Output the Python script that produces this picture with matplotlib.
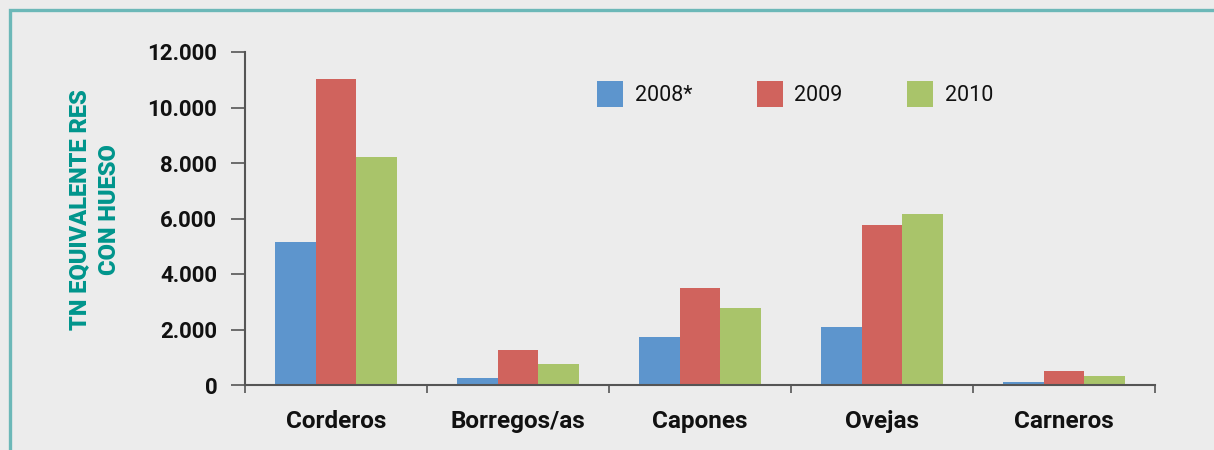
import matplotlib
matplotlib.use("Agg")
import matplotlib.pyplot as plt
from matplotlib.patches import Rectangle
import numpy as np

categories = ["Corderos", "Borregos/as", "Capones", "Ovejas", "Carneros"]
series_names = ["2008*", "2009", "2010"]
v2008 = [5150, 250, 1730, 2090, 100]
v2009 = [11030, 1260, 3500, 5760, 500]
v2010 = [8200, 760, 2780, 6170, 320]
yticks = [0, 2000, 4000, 6000, 8000, 10000, 12000]
ytick_labels = ["0", "2.000", "4.000", "6.000", "8.000", "10.000", "12.000"]
colors = ["#5d95cd", "#d0635d", "#a9c46a"]
teal = "#00958c"
bg = "#ececec"

plt.rcParams['font.family'] = ['Roboto', 'DejaVu Sans']

fig = plt.figure(figsize=(12.14, 4.5), dpi=100)
fig.patch.set_facecolor(bg)

# teal border (left and top)
W, H = 1214, 450
fig.add_artist(Rectangle((10 / W, -0.1), 1.2, 1 - 10 / H + 0.1, transform=fig.transFigure,
                         fill=False, edgecolor="#6cb8b8", linewidth=2.4))

ax = fig.add_axes([245 / W, 1 - 385 / H, (1155 - 245) / W, (385 - 52) / H])
ax.set_facecolor("none")

x = np.arange(len(categories))
w = 0.222
for i, (vals, name) in enumerate(zip([v2008, v2009, v2010], series_names)):
    ax.bar(x + (i - 1) * w, vals, width=w, color=colors[i], label=name, zorder=2)

ax.set_xlim(-0.5, len(categories) - 0.5)
ax.set_ylim(0, 12000)
ax.set_yticks(yticks)
ax.set_yticklabels(ytick_labels, fontsize=16, fontweight="bold", color="#111111")
ax.set_xticks(x)
ax.set_xticklabels(categories, fontsize=17.5, fontweight="bold", color="#111111")
ax.tick_params(axis="x", length=0, pad=18)
ax.set_xticks(np.arange(len(categories) + 1) - 0.5, minor=True)
ax.tick_params(axis="x", which="minor", length=6, width=1.2, color="#555555", direction="out")
ax.tick_params(axis="y", length=10, width=1.2, color="#555555", direction="out", pad=10)

for s in ["top", "right"]:
    ax.spines[s].set_visible(False)
for s in ["left", "bottom"]:
    ax.spines[s].set_color("#555555")
    ax.spines[s].set_linewidth(1.5)

fig.text(80 / W, 1 - 210 / H, "TN EQUIVALENTE RES", rotation=90, ha="center", va="center",
         fontsize=17, fontweight="black", color=teal)
fig.text(110 / W, 1 - 210 / H, "CON HUESO", rotation=90, ha="center", va="center",
         fontsize=17, fontweight="black", color=teal)

leg = ax.legend(loc="upper left", bbox_to_anchor=((597 - 245) / 910, 1 - 29 / 333), ncol=3, frameon=False,
                fontsize=15.5, handlelength=1.2, handleheight=1.45, handletextpad=0.55,
                columnspacing=3.0, borderaxespad=0, borderpad=0)
for t in leg.get_texts():
    t.set_color("#111111")

fig.savefig("out.png", dpi=100, facecolor=fig.get_facecolor())
